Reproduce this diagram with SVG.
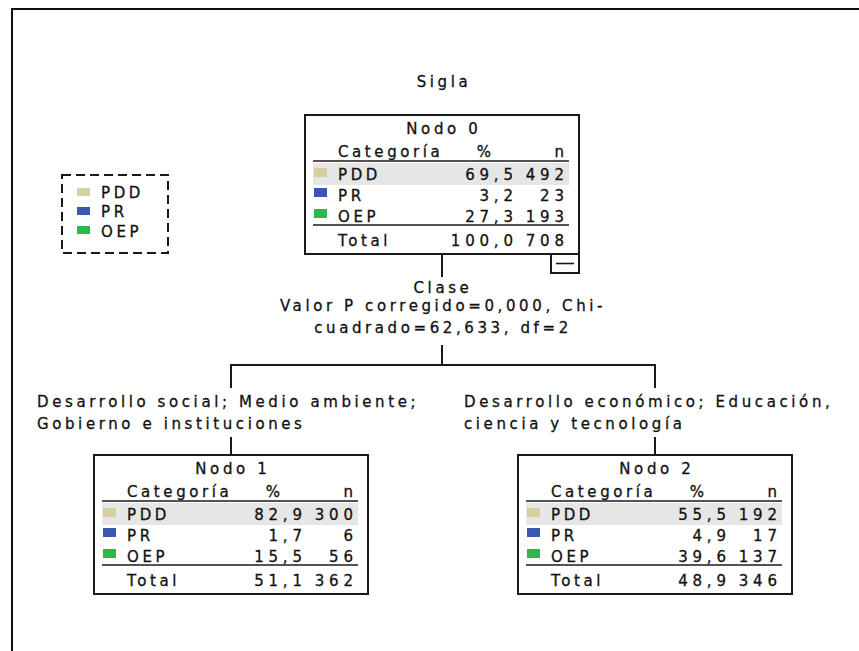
<svg xmlns="http://www.w3.org/2000/svg" width="859" height="651" viewBox="0 0 859 651">
<defs>
<style>
.t{font-family:"DejaVu Sans","Liberation Sans",sans-serif;font-size:15px;letter-spacing:3.6px;fill:#111;stroke:#111;stroke-width:0.3px}
.num{letter-spacing:4.8px}
.mid{text-anchor:middle}
.end{text-anchor:end}
.box{fill:#fff;stroke:#1a1a1a;stroke-width:2}
.rule{stroke:#1a1a1a;stroke-width:1.6}
.hl{fill:#e6e6e6}
.pdd{fill:#d6cf9f}
.pr{fill:#3b57b4}
.oep{fill:#2db84c}
.conn{stroke:#1a1a1a;stroke-width:2;fill:none}
</style>
</defs>
<rect x="0" y="0" width="859" height="651" fill="#fff"/>
<path d="M12,651 V9 H859" fill="none" stroke="#111" stroke-width="2"/>

<g id="legend">
<rect x="62" y="175" width="106" height="78" fill="none" stroke="#1a1a1a" stroke-width="2" stroke-dasharray="9 5"/>
<rect class="pdd" x="77" y="188" width="13" height="8"/>
<text class="t" x="101" y="198">PDD</text>
<rect class="pr" x="77" y="207" width="13" height="8"/>
<text class="t" x="101" y="217">PR</text>
<rect class="oep" x="77" y="226" width="13" height="8"/>
<text class="t" x="101" y="237">OEP</text>
</g>

<text class="t mid" x="444" y="87">Sigla</text>

<g id="connectors">
<line class="conn" x1="442" y1="254" x2="442" y2="277"/>
<line class="conn" x1="442" y1="345" x2="442" y2="365"/>
<line class="conn" x1="230" y1="365" x2="656" y2="365"/>
<line class="conn" x1="231" y1="365" x2="231" y2="388"/>
<line class="conn" x1="655" y1="365" x2="655" y2="388"/>
<line class="conn" x1="231" y1="437" x2="231" y2="455"/>
<line class="conn" x1="655" y1="437" x2="655" y2="455"/>
</g>

<g id="split-label">
<text class="t mid" x="443" y="293">Clase</text>
<text class="t mid" x="443" y="311">Valor P corregido=0,000, Chi-</text>
<text class="t mid" x="443" y="333">cuadrado=62,633, df=2</text>
</g>

<g id="edge-labels">
<text class="t" x="37" y="407">Desarrollo social; Medio ambiente;</text>
<text class="t" x="37" y="429">Gobierno e instituciones</text>
<text class="t" x="464" y="407">Desarrollo económico; Educación,</text>
<text class="t" x="464" y="429">ciencia y tecnología</text>
</g>

<g id="node0" transform="translate(305,115)">
<rect class="box" x="0" y="0" width="274" height="139"/>
<text class="t mid" x="138.8" y="19">Nodo 0</text>
<text class="t" x="33" y="42">Categoría</text>
<text class="t mid" x="180.8" y="42">%</text>
<text class="t end" x="262.6" y="42">n</text>
<line class="rule" x1="8" y1="46" x2="264" y2="46"/>
<rect class="hl" x="8" y="48" width="256" height="22"/>
<rect class="pdd" x="9" y="53" width="13" height="9"/>
<text class="t" x="33" y="65">PDD</text>
<text class="t num end" x="212.8" y="65">69,5</text>
<text class="t num end" x="263.8" y="65">492</text>
<rect class="pr" x="9" y="73" width="13" height="9"/>
<text class="t" x="33" y="86">PR</text>
<text class="t num end" x="212.8" y="86">3,2</text>
<text class="t num end" x="263.8" y="86">23</text>
<rect class="oep" x="9" y="94" width="13" height="9"/>
<text class="t" x="33" y="107">OEP</text>
<text class="t num end" x="212.8" y="107">27,3</text>
<text class="t num end" x="263.8" y="107">193</text>
<line class="rule" x1="8" y1="110" x2="264" y2="110"/>
<text class="t" x="33" y="131">Total</text>
<text class="t num end" x="212.8" y="131">100,0</text>
<text class="t num end" x="263.8" y="131">708</text>
<rect class="box" x="246" y="139" width="28" height="19"/>
<line class="rule" x1="251" y1="148.5" x2="269" y2="148.5"/>
</g>

<g id="node1" transform="translate(94,455)">
<rect class="box" x="0" y="0" width="274" height="139"/>
<text class="t mid" x="138.8" y="19">Nodo 1</text>
<text class="t" x="33" y="42">Categoría</text>
<text class="t mid" x="180.8" y="42">%</text>
<text class="t end" x="262.6" y="42">n</text>
<line class="rule" x1="8" y1="46" x2="264" y2="46"/>
<rect class="hl" x="8" y="48" width="256" height="22"/>
<rect class="pdd" x="9" y="53" width="13" height="9"/>
<text class="t" x="33" y="65">PDD</text>
<text class="t num end" x="212.8" y="65">82,9</text>
<text class="t num end" x="263.8" y="65">300</text>
<rect class="pr" x="9" y="73" width="13" height="9"/>
<text class="t" x="33" y="86">PR</text>
<text class="t num end" x="212.8" y="86">1,7</text>
<text class="t num end" x="263.8" y="86">6</text>
<rect class="oep" x="9" y="94" width="13" height="9"/>
<text class="t" x="33" y="107">OEP</text>
<text class="t num end" x="212.8" y="107">15,5</text>
<text class="t num end" x="263.8" y="107">56</text>
<line class="rule" x1="8" y1="110" x2="264" y2="110"/>
<text class="t" x="33" y="131">Total</text>
<text class="t num end" x="212.8" y="131">51,1</text>
<text class="t num end" x="263.8" y="131">362</text>
</g>

<g id="node2" transform="translate(518,455)">
<rect class="box" x="0" y="0" width="274" height="139"/>
<text class="t mid" x="138.8" y="19">Nodo 2</text>
<text class="t" x="33" y="42">Categoría</text>
<text class="t mid" x="180.8" y="42">%</text>
<text class="t end" x="262.6" y="42">n</text>
<line class="rule" x1="8" y1="46" x2="264" y2="46"/>
<rect class="hl" x="8" y="48" width="256" height="22"/>
<rect class="pdd" x="9" y="53" width="13" height="9"/>
<text class="t" x="33" y="65">PDD</text>
<text class="t num end" x="212.8" y="65">55,5</text>
<text class="t num end" x="263.8" y="65">192</text>
<rect class="pr" x="9" y="73" width="13" height="9"/>
<text class="t" x="33" y="86">PR</text>
<text class="t num end" x="212.8" y="86">4,9</text>
<text class="t num end" x="263.8" y="86">17</text>
<rect class="oep" x="9" y="94" width="13" height="9"/>
<text class="t" x="33" y="107">OEP</text>
<text class="t num end" x="212.8" y="107">39,6</text>
<text class="t num end" x="263.8" y="107">137</text>
<line class="rule" x1="8" y1="110" x2="264" y2="110"/>
<text class="t" x="33" y="131">Total</text>
<text class="t num end" x="212.8" y="131">48,9</text>
<text class="t num end" x="263.8" y="131">346</text>
</g>
</svg>
